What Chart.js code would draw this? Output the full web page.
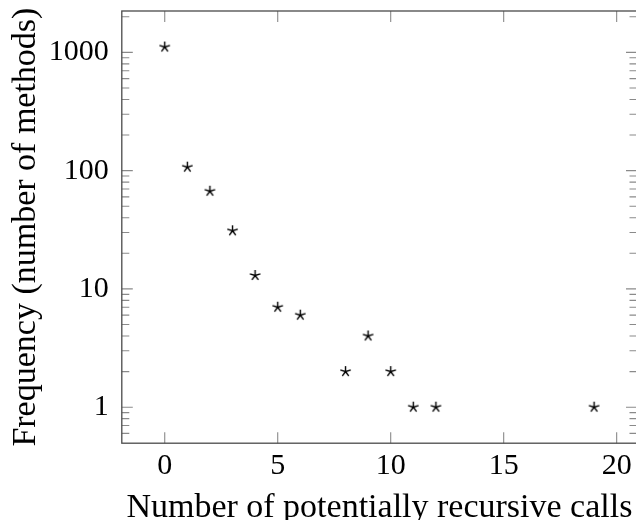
<!DOCTYPE html>
<html>
<head>
<meta charset="utf-8">
<script src="https://cdn.jsdelivr.net/npm/chart.js@4"></script>
<style>
  html, body { margin: 0; padding: 0; background: #fff; overflow: hidden; }
  canvas { display: block; }
</style>
</head>
<body>
<canvas id="chart" width="642" height="520"></canvas>
<script>
Chart.defaults.font.family = 'Liberation Serif';
Chart.defaults.color = '#000';

const calls = [0, 1, 2, 3, 4, 5, 6, 8, 9, 10, 11, 12, 19];
const methods = [1110, 107, 67, 31, 13, 7, 6, 2, 4, 2, 1, 1, 1];
const xTicks = [0, 5, 10, 15, 20];
const yTicks = [1, 10, 100, 1000];

// pgfplots style limits: data range enlarged by 10% on each side
const xSpan = Math.max(...calls) - Math.min(...calls);
const xMin = Math.min(...calls) - 0.1 * xSpan,
  xMax = Math.max(...calls) + 0.1 * xSpan;
const lMin = Math.log10(Math.min(...methods)),
  lMax = Math.log10(Math.max(...methods));
const yMin = Math.pow(10, lMin - 0.1 * (lMax - lMin)),
  yMax = Math.pow(10, lMax + 0.1 * (lMax - lMin));

// five armed star like the pgfplots "star" mark
const makeStar = function makeStar(r) {
  const c = document.createElement('canvas');
  c.width = c.height = 2 * r + 4;
  const ctx = c.getContext('2d');
  const m = c.width / 2;
  ctx.strokeStyle = '#000';
  ctx.lineWidth = 1.4;
  ctx.beginPath();
  for (let i = 0; i < 5; i++) {
    const a = -Math.PI / 2 + i * 2 * Math.PI / 5;
    ctx.moveTo(m, m);
    ctx.lineTo(m + r * Math.cos(a), m + r * Math.sin(a));
  }
  ctx.stroke();
  return c;
}

// no extra room for half labels at the ends of the axes
const noPad = s => { s.paddingTop = s.paddingBottom = s.paddingLeft = s.paddingRight = 0; };

const axisBox = {
  id: 'axisBox',
  afterDraw: chart => {
    const ctx = chart.ctx;
    const a = chart.chartArea;
    const xs = chart.scales['x'];
    const ys = chart.scales['y'];
    ctx.save();
    ctx.strokeStyle = '#8a8a8a';
    ctx.lineWidth = 1.1;
    ctx.beginPath();
    xTicks.forEach(v => {
      const x = xs.getPixelForValue(v);
      ctx.moveTo(x, a.bottom); ctx.lineTo(x, a.bottom - 11);
      ctx.moveTo(x, a.top); ctx.lineTo(x, a.top + 11);
    });
    for (let e = -1; e <= 3; e++) {
      for (let k = 1; k <= 9; k++) {
        const v = k * Math.pow(10, e);
        if (v < yMin * 1.03 || v > yMax) continue;
        const y = ys.getPixelForValue(v);
        const len = k === 1 ? 11 : 7.5;
        ctx.moveTo(a.left, y); ctx.lineTo(a.left + len, y);
        ctx.moveTo(a.right, y); ctx.lineTo(a.right - len, y);
      }
    }
    ctx.stroke();
    ctx.strokeStyle = '#4a4a4a';
    ctx.lineWidth = 1.3;
    ctx.strokeRect(a.left, a.top, a.right - a.left, a.bottom - a.top);
    ctx.restore();
  }
};

const chart = new Chart(document.getElementById('chart'), {
  type: 'scatter',
  plugins: [axisBox],
  data: {
    datasets: [{
      data: calls.map((c, i) => ({ x: c, y: methods[i] })),
      pointStyle: makeStar(5.5),
      borderColor: '#000',
      backgroundColor: '#000'
    }]
  },
  options: {
    responsive: false,
    animation: false,
    devicePixelRatio: 1,
    layout: {
      padding: { left: 3, top: 11, right: 3.6, bottom: -3 }
    },
    plugins: {
      legend: { display: false },
      tooltip: { enabled: false }
    },
    scales: {
      x: {
        type: 'linear',
        min: xMin,
        max: xMax,
        grid: { display: false, drawTicks: false },
        border: { display: false },
        afterBuildTicks: s => { s.ticks = xTicks.map(v => ({ value: v })); },
        afterFit: noPad,
        ticks: {
          autoSkip: false,
          maxRotation: 0,
          padding: 5.4,
          font: { size: 30 },
          callback: v => String(v)
        },
        title: {
          display: true,
          text: 'Number of potentially recursive calls',
          font: { size: 34, lineHeight: 0.9 },
          padding: { top: 2.4, bottom: 0 }
        }
      },
      y: {
        type: 'logarithmic',
        min: yMin,
        max: yMax,
        grid: { display: false, drawTicks: false },
        border: { display: false },
        afterBuildTicks: s => { s.ticks = yTicks.map(v => ({ value: v })); },
        afterFit: noPad,
        ticks: {
          autoSkip: false,
          padding: 13,
          font: { size: 30 },
          callback: v => String(v)
        },
        title: {
          display: true,
          text: 'Frequency (number of methods)',
          font: { size: 34 },
          padding: { top: 3, bottom: -11 }
        }
      }
    }
  }
});
</script>
</body>
</html>
